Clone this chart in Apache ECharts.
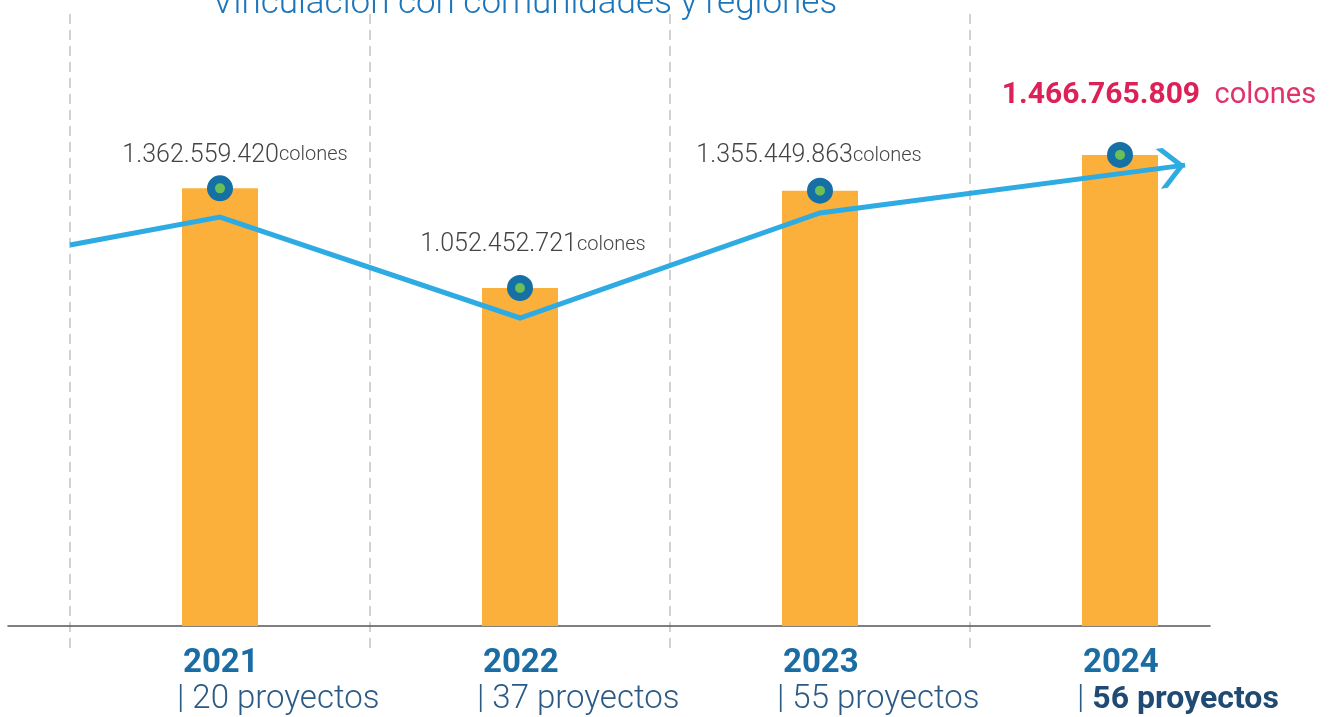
<!DOCTYPE html>
<html><head><meta charset="utf-8">
<script src="https://cdn.jsdelivr.net/npm/echarts@6/dist/echarts.min.js"></script>
<style>html,body{margin:0;padding:0;background:#fff}#c{width:1333px;height:717px}</style>
</head><body><div id="c"></div>
<script>
// ---- data ----
const titleText = 'Vinculación con comunidades y regiones';
const years = ['2021', '2022', '2023', '2024'];
const projects = [20, 37, 55, 56];
const amounts = [1362559420, 1052452721, 1355449863, 1466765809];
const unit = 'colones';
const projWord = 'proyectos';
// decorative trend arrow (x in category units from left edge, y in colones)
const trendX = [0, 0.5, 1.5, 2.5, 3.717];
const trendY = [1186e6, 1273e6, 959e6, 1286e6, 1435e6];
const highlight = 3;

// ---- helpers / layout ----
function fmt(n) { return String(n).replace(/\B(?=(\d{3})+(?!\d))/g, '.'); }
const PX = 3.1135e6;
const Y_MIN = -24 * PX, Y_MAX = 612 * PX;
const labelOffsets = [[15, -33], [13, -43], [-11, -35], [39, -59]];
const FONT = 'Roboto';

const chart = echarts.init(document.getElementById('c'), null, {renderer: 'canvas'});

const scatterData = amounts.map((v, i) => {
  const hi = i === highlight;
  return {
    value: v,
    label: {
      offset: labelOffsets[i],
      formatter: hi ? '{nb|' + fmt(v) + '}{ub|  ' + unit + '}' : '{n|' + fmt(v) + '}{u|' + unit + '}'
    }
  };
});

const chevron = 'path://M0,0 L7,0 L27,20 L7,40 L0,40 L20,20 Z';
const trendData = trendX.map((x, i) => {
  const d = {value: [x, trendY[i]]};
  if (i === trendX.length - 1) {
    d.symbol = chevron;
    d.symbolSize = [27, 40];
    d.symbolRotate = 7.5;
    d.symbolOffset = [-13.5, 2];
  }
  return d;
});

const option = {
  animation: false,
  backgroundColor: '#ffffff',
  title: {
    text: titleText,
    left: 207,
    top: -18,
    textStyle: {fontFamily: FONT, fontWeight: 300, fontSize: 35, color: '#1B75BB'}
  },
  grid: [
    {left: 70, right: 63, top: 14, bottom: 67},
    {left: 8, right: 123, top: 14, bottom: 67}
  ],
  xAxis: [
    {
      type: 'category', gridIndex: 0, data: years, boundaryGap: true,
      axisLine: {show: false}, axisTick: {show: false}, splitLine: {show: false},
      axisLabel: {
        interval: 0, align: 'left', margin: -4, padding: [0, 0, 0, -43],
        formatter: function (val, idx) {
          const p = projects[idx] + ' ' + projWord;
          return '{y|' + val + '}\n' + (idx === highlight ? '{p|| }{pb|' + p + '}' : '{p|| ' + p + '}');
        },
        rich: {
          y: {fontFamily: FONT, fontWeight: 'bold', fontSize: 33, lineHeight: 36, color: '#1A6CA3', padding: [0, 0, 0, 6]},
          p: {fontFamily: FONT, fontWeight: 300, fontSize: 33, lineHeight: 36, color: '#2A5A85'},
          pb: {fontFamily: FONT, fontWeight: 'bold', fontSize: 32, lineHeight: 36, color: '#1F4A73'}
        }
      }
    },
    {
      type: 'value', gridIndex: 0, position: 'top', min: 0, max: 4, interval: 1,
      axisLine: {show: false}, axisTick: {show: false}, axisLabel: {show: false},
      splitLine: {show: true, showMinLine: true, showMaxLine: false,
        lineStyle: {color: '#C4C4C4', width: 1.5, type: [10, 6]}}
    },
    {
      type: 'value', gridIndex: 1, min: 0, max: 1,
      axisLine: {show: true, onZero: true, lineStyle: {color: '#555555', width: 1.5}},
      axisTick: {show: false}, axisLabel: {show: false}, splitLine: {show: false}
    }
  ],
  yAxis: [
    {type: 'value', gridIndex: 0, min: Y_MIN, max: Y_MAX, show: false, splitLine: {show: false}},
    {type: 'value', gridIndex: 1, min: Y_MIN, max: Y_MAX, show: false, splitLine: {show: false}}
  ],
  series: [
    {
      type: 'bar', xAxisIndex: 0, yAxisIndex: 0, data: amounts, barWidth: 76,
      itemStyle: {color: '#FBB03B'}, z: 2
    },
    {
      type: 'line', xAxisIndex: 1, yAxisIndex: 0, data: trendData,
      symbol: 'none', showSymbol: true, showAllSymbol: true,
      lineStyle: {color: '#2DABE2', width: 5, cap: 'butt', join: 'miter'},
      itemStyle: {color: '#2DABE2', borderWidth: 0, opacity: 1},
      z: 3
    },
    {
      type: 'scatter', xAxisIndex: 0, yAxisIndex: 0, data: scatterData,
      symbol: 'circle', symbolSize: 18,
      itemStyle: {color: '#6BBF59', borderColor: '#1570A6', borderWidth: 8, opacity: 1},
      label: {
        show: true, position: 'inside',
        rich: {
          n: {fontFamily: FONT, fontWeight: 300, fontSize: 25, color: '#444444'},
          u: {fontFamily: FONT, fontWeight: 300, fontSize: 20, color: '#444444'},
          nb: {fontFamily: FONT, fontWeight: 'bold', fontSize: 30, color: '#DC2157'},
          ub: {fontFamily: FONT, fontWeight: 400, fontSize: 29, color: '#E0336A'}
        }
      },
      z: 4
    }
  ]
};
chart.setOption(option);
</script>
</body></html>
